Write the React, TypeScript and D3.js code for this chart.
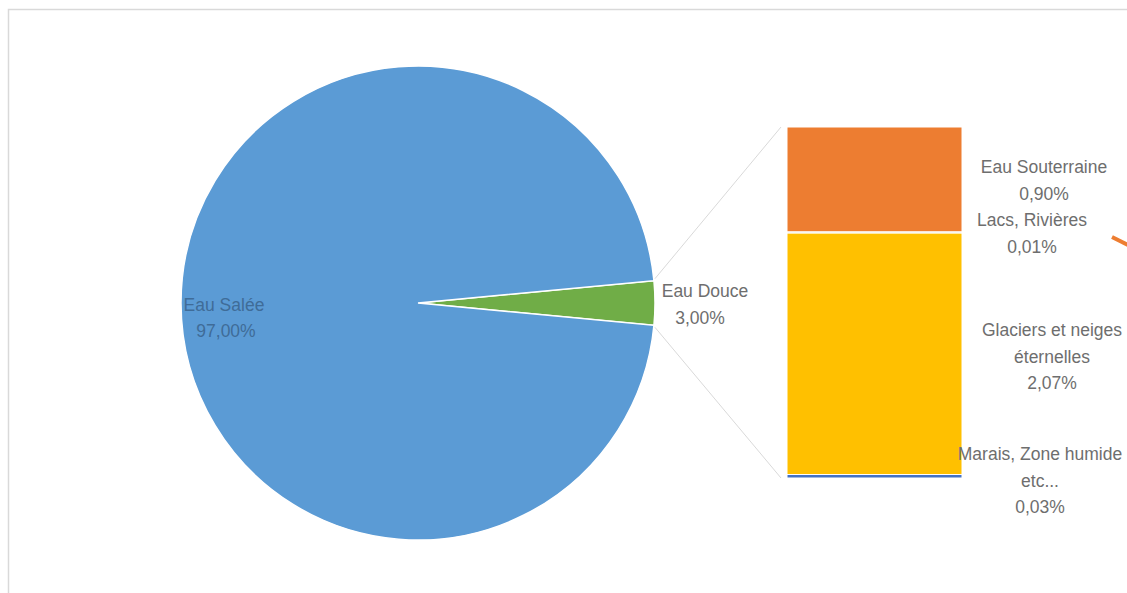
import React from "react";
import * as d3 from "d3";

const pieLabels = ["Eau Douce", "Eau Salée"];
const pieValues = [3.0, 97.0];
const pieColors = ["#70AD47", "#5B9BD5"];

const barLabels = ["Eau Souterraine", "Lacs, Rivières", "Glaciers et neiges éternelles", "Marais, Zone humide etc..."];
const barValues = [0.9, 0.01, 2.07, 0.03];
const barColors = ["#ED7D31", "#A5A5A5", "#FFC000", "#4472C4"];

const fmt = (v: number) => v.toFixed(2).replace(".", ",") + "%";

export default function App() {
  const W = 1127, H = 593;
  const cx = 418, cy = 303, r = 237;
  const frac = pieValues[0] / d3.sum(pieValues);
  const start = Math.PI / 2 - frac * Math.PI;
  const pie = d3.pie<number>().sort(null).startAngle(start).endAngle(start + 2 * Math.PI);
  const arcs = pie(pieValues);
  const arc = d3.arc<d3.PieArcDatum<number>>().innerRadius(0).outerRadius(r);

  const total = d3.sum(barValues);
  const yScale = d3.scaleLinear().domain([0, total]).range([127, 478]);
  const bx0 = 787, bx1 = 962;
  let acc = 0;
  const segs = barValues.map((v, i) => {
    const s = { y0: yScale(acc), y1: yScale(acc + v), color: barColors[i] };
    acc += v;
    return s;
  });

  const a0 = arcs[0].startAngle, a1 = arcs[0].endAngle;
  const p0 = [cx + r * Math.sin(a0), cy - r * Math.cos(a0)];
  const p1 = [cx + r * Math.sin(a1), cy - r * Math.cos(a1)];

  const font = "'Liberation Sans', Arial, sans-serif";
  const fs = 17.5;
  const grey = "#6e6e6e";

  const rightLabels: { lines: string[]; x: number; y: number }[] = [
    { lines: ["Eau Souterraine", fmt(barValues[0])], x: 1044, y: 167 },
    { lines: ["Lacs, Rivières", fmt(barValues[1])], x: 1032, y: 220 },
    { lines: ["Glaciers et neiges", "éternelles", fmt(barValues[2])], x: 1052, y: 330 },
    { lines: ["Marais, Zone humide", "etc...", fmt(barValues[3])], x: 1040, y: 454 },
  ];

  return (
    <svg width={W} height={H} style={{ position: "absolute", left: 0, top: 0, background: "#fff" }}>
      <path d={`M8.5,${H} V9.5 H${W}`} fill="none" stroke="#d9d9d9" strokeWidth={1.5} />
      <g transform={`translate(${cx},${cy})`}>
        {arcs.map((a, i) => (
          <path key={i} d={arc(a) || ""} fill={pieColors[i]} stroke="#fff" strokeWidth={1.5} />
        ))}
      </g>
      <line x1={p0[0] + 1} y1={p0[1] - 2} x2={bx0 - 6} y2={segs[0].y0} stroke="#d9d9d9" strokeWidth={1} />
      <line x1={p1[0] + 1} y1={p1[1] + 2} x2={bx0 - 6} y2={segs[3].y1} stroke="#d9d9d9" strokeWidth={1} />
      {segs.map((s, i) => (
        <rect key={i} x={bx0} y={s.y0} width={bx1 - bx0} height={Math.max(0.5, s.y1 - s.y0)} fill={s.color} stroke="#fff" strokeWidth={1} />
      ))}
      <g fontFamily={font} fontSize={fs} textAnchor="middle" dominantBaseline="central">
        <text x={224} y={305} fill="#3f6c98">{pieLabels[1]}</text>
        <text x={226} y={331} fill="#3f6c98">{fmt(pieValues[1])}</text>
        <text x={705} y={291} fill={grey}>{pieLabels[0]}</text>
        <text x={700} y={318} fill={grey}>{fmt(pieValues[0])}</text>
        {rightLabels.map((l, i) =>
          l.lines.map((t, j) => (
            <text key={`${i}-${j}`} x={l.x} y={l.y + j * 26.5} fill={grey}>{t}</text>
          ))
        )}
      </g>
      <line x1={1112} y1={237} x2={1132} y2={247} stroke="#ED7D31" strokeWidth={4} />
    </svg>
  );
}
